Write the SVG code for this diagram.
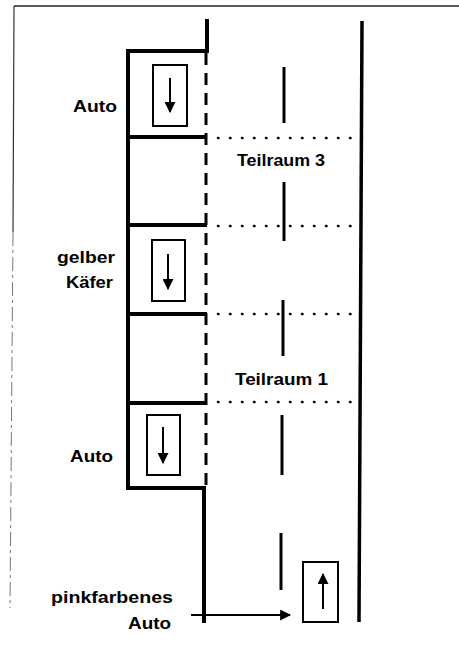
<svg xmlns="http://www.w3.org/2000/svg" width="459" height="663" viewBox="0 0 459 663">
<style>
.thick{stroke:#000;stroke-width:4;fill:none;stroke-linecap:square}
.dash{stroke:#000;stroke-width:3;fill:none;stroke-dasharray:12 8}
.center{stroke:#000;stroke-width:3;fill:none}
.dot{stroke:#000;stroke-width:2.5;fill:none;stroke-dasharray:0.5 11.5;stroke-linecap:round}
.car{stroke:#000;stroke-width:2;fill:#fff}
.arr{stroke:#000;stroke-width:2;fill:none}
.lbl{font-family:"Liberation Sans",Arial,sans-serif;font-size:17px;font-weight:bold;fill:#000}
</style>
<defs>
<marker id="ah" viewBox="0 0 10 10" refX="9" refY="5" markerWidth="5.5" markerHeight="5.5" orient="auto" markerUnits="strokeWidth">
<path d="M0,0 L10,5 L0,10 Z" fill="#000"/>
</marker>
</defs>
<rect width="459" height="663" fill="#fff"/>
<g id="frame">
<line x1="14" y1="6" x2="459" y2="6" stroke="#222" stroke-width="1.5"/>
<line x1="14" y1="6" x2="13" y2="232" stroke="#333" stroke-width="1.2"/>
<line x1="13" y1="232" x2="10" y2="608" stroke="#777" stroke-width="1" stroke-dasharray="14 4 3 4"/>
</g>
<g id="connectors">
<polyline class="thick" points="207,21 207,51 128,51 128,488 204,488 204,621"/>
<line class="dash" x1="206" y1="53" x2="206" y2="486"/>
<line class="thick" x1="128" y1="137" x2="205" y2="137"/>
<line class="thick" x1="128" y1="225" x2="205" y2="225"/>
<line class="thick" x1="128" y1="314" x2="205" y2="314"/>
<line class="thick" x1="128" y1="403" x2="205" y2="403"/>
<line class="dot" x1="218" y1="138" x2="360" y2="138"/>
<line class="dot" x1="218" y1="226" x2="360" y2="226"/>
<line class="dot" x1="218" y1="314" x2="360" y2="314"/>
<line class="dot" x1="218" y1="402" x2="360" y2="402"/>
<path d="M362,21 L359,622" stroke="#000" stroke-width="3.5" fill="none"/>
<line class="center" x1="284" y1="67" x2="284" y2="123"/>
<line class="center" x1="284" y1="182" x2="284" y2="241"/>
<line class="center" x1="283" y1="300" x2="283" y2="356"/>
<line class="center" x1="282" y1="415" x2="282" y2="475"/>
<line class="center" x1="281" y1="533" x2="281" y2="590"/>
<line x1="191" y1="615" x2="290" y2="615" stroke="#000" stroke-width="2" marker-end="url(#ah)"/>
</g>
<g id="car1">
<rect class="car" x="153" y="65" width="34" height="61"/>
<line class="arr" x1="170" y1="78" x2="170" y2="112" marker-end="url(#ah)"/>
</g>
<g id="car2">
<rect class="car" x="152" y="240" width="33" height="61"/>
<line class="arr" x1="168" y1="254" x2="168" y2="289" marker-end="url(#ah)"/>
</g>
<g id="car3">
<rect class="car" x="147" y="415" width="33" height="60"/>
<line class="arr" x1="163" y1="427" x2="163" y2="463" marker-end="url(#ah)"/>
</g>
<g id="car4">
<rect class="car" x="303" y="562" width="35" height="60"/>
<line class="arr" x1="323" y1="609" x2="323" y2="574" marker-end="url(#ah)"/>
</g>
<g id="labels">
<text class="lbl" x="73" y="112" textLength="44" lengthAdjust="spacingAndGlyphs">Auto</text>
<text class="lbl" x="237" y="166" textLength="88" lengthAdjust="spacingAndGlyphs">Teilraum 3</text>
<text class="lbl" x="57" y="263" textLength="58" lengthAdjust="spacingAndGlyphs">gelber</text>
<text class="lbl" x="66" y="288" textLength="47" lengthAdjust="spacingAndGlyphs">Käfer</text>
<text class="lbl" x="235" y="385" textLength="93" lengthAdjust="spacingAndGlyphs">Teilraum 1</text>
<text class="lbl" x="70" y="462" textLength="43" lengthAdjust="spacingAndGlyphs">Auto</text>
<text class="lbl" x="51" y="603" textLength="122" lengthAdjust="spacingAndGlyphs">pinkfarbenes</text>
<text class="lbl" x="128" y="629" textLength="43" lengthAdjust="spacingAndGlyphs">Auto</text>
</g>
</svg>
